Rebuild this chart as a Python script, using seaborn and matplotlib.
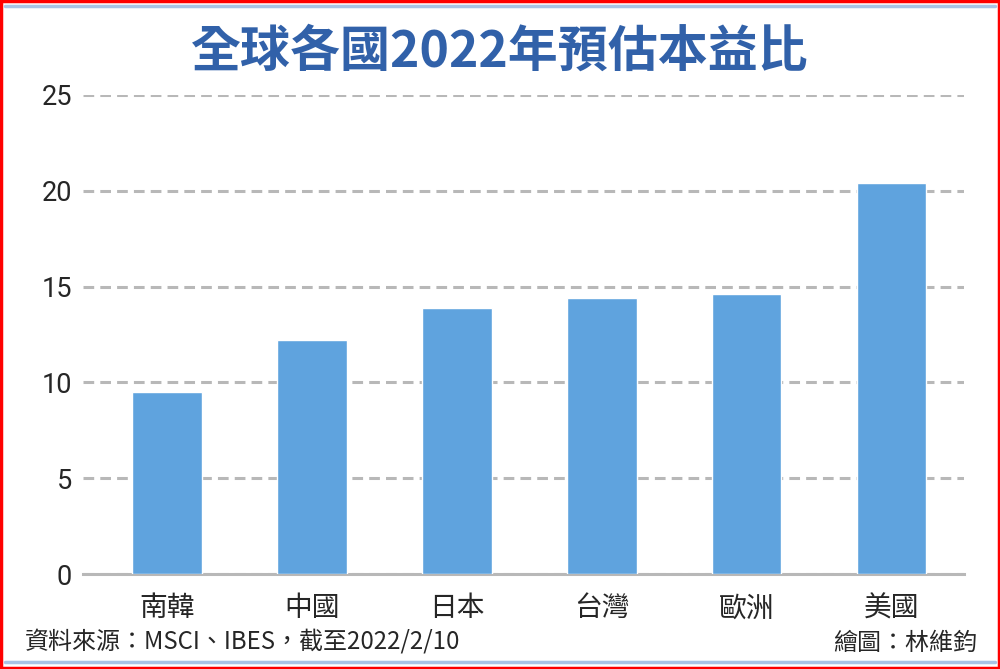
import numpy as np
import seaborn as sns
import matplotlib.pyplot as plt
from matplotlib.lines import Line2D
from matplotlib.patches import Rectangle

# 資料：全球各國2022年預估本益比
countries = ['南韓', '中國', '日本', '台灣', '歐洲', '美國']
pe_2022 = [9.5, 12.2, 13.9, 14.4, 14.6, 20.4]
y_ticks = [0, 5, 10, 15, 20, 25]

title = '全球各國2022年預估本益比'
source = '資料來源：MSCI、IBES，截至2022/2/10'
credit = '繪圖：林維鈞'

sns.set_style('white')
plt.rcParams['font.family'] = ['Noto Sans CJK TC', 'DejaVu Sans']

fig = plt.figure(figsize=(10, 6.69), dpi=100)
ax = fig.add_axes([0.083, 0.142, 0.881, 0.716])

sns.barplot(x=countries, y=pe_2022, color='#5fa3de', saturation=1,
            width=0.48, ax=ax, zorder=3)

ax.set_ylim(0, 25)
ax.set_xlim(-0.58, 5.5)
ax.set_yticks(y_ticks)
ax.set_yticklabels([str(v) for v in y_ticks], family='Roboto', fontsize=19.5)
ax.set_xticks(range(len(countries)))
ax.set_xticklabels(countries, fontsize=20)
ax.set_xticks(np.arange(-0.5, len(countries), 1), minor=True)
ax.tick_params(axis='x', which='major', length=0, pad=14)
ax.tick_params(axis='x', which='minor', length=11, width=2, color='#b8b8b8', direction='out')
ax.tick_params(axis='y', length=0, pad=8)

ax.yaxis.grid(True, color='#b8b8b8', linestyle=(0, (3.5, 2)), linewidth=2.2, zorder=0)
ax.xaxis.grid(False)
for side in ['top', 'right', 'left']:
    ax.spines[side].set_visible(False)
ax.spines['bottom'].set_color('#b8b8b8')
ax.spines['bottom'].set_linewidth(2.2)
ax.set_xlabel('')
ax.set_ylabel('')

fig.text(0.5, 0.922, title, ha='center', va='center', fontsize=36,
         fontweight='bold', color='#3161a9')
fig.text(0.025, 0.039, source, ha='left', va='center', fontsize=17.3)
fig.text(0.977, 0.039, credit, ha='right', va='center', fontsize=17.3)

# 外框與藍色細線
fig.add_artist(Line2D([0.005, 0.995], [0.991, 0.991], color='#a9c4e6', linewidth=2.5))
fig.add_artist(Line2D([0.005, 0.995], [0.011, 0.011], color='#a9c4e6', linewidth=2.5))
fig.patches.append(Rectangle((0.001, 0.0015), 0.998, 0.997, transform=fig.transFigure,
                             fill=False, edgecolor='#ff0000', linewidth=2.5))

fig.savefig('out.png', dpi=100)
